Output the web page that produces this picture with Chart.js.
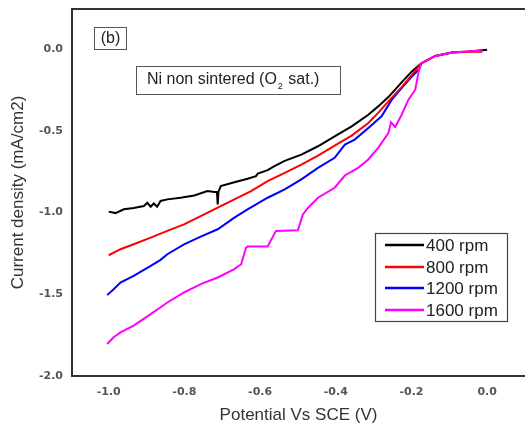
<!DOCTYPE html>
<html>
<head>
<meta charset="utf-8">
<script src="https://cdn.jsdelivr.net/npm/chart.js@4"></script>
<style>
  html, body { margin: 0; padding: 0; background: #fff; }
  #wrap { width: 525px; height: 428px; }
</style>
</head>
<body>
<div id="wrap"><canvas id="rdeChart" width="525" height="428"></canvas></div>
<script>
// 400 rpm
const v400 = [-1.000, -0.982, -0.960, -0.934, -0.907, -0.898, -0.889, -0.881, -0.872, -0.863, -0.845, -0.810, -0.774, -0.739, -0.721, -0.714, -0.712, -0.710, -0.704, -0.668, -0.633, -0.611, -0.606, -0.580, -0.562, -0.535, -0.491, -0.447, -0.403, -0.358, -0.314, -0.288, -0.261, -0.226, -0.199, -0.173, -0.137, -0.093, -0.049, 0.000];
const j400 = [-0.994, -1.003, -0.980, -0.972, -0.960, -0.940, -0.964, -0.944, -0.964, -0.929, -0.919, -0.909, -0.895, -0.868, -0.874, -0.874, -0.950, -0.874, -0.838, -0.814, -0.793, -0.777, -0.761, -0.740, -0.716, -0.683, -0.645, -0.594, -0.533, -0.472, -0.401, -0.350, -0.293, -0.203, -0.136, -0.085, -0.041, -0.020, -0.014, -0.004];

// 800 rpm
const v800 = [-1.000, -0.969, -0.934, -0.889, -0.845, -0.801, -0.757, -0.712, -0.668, -0.624, -0.580, -0.535, -0.491, -0.447, -0.403, -0.358, -0.314, -0.288, -0.261, -0.226, -0.199, -0.173, -0.137, -0.093, -0.049, -0.013];
const j800 = [-1.261, -1.224, -1.194, -1.153, -1.112, -1.072, -1.021, -0.970, -0.919, -0.868, -0.807, -0.757, -0.706, -0.651, -0.590, -0.529, -0.452, -0.390, -0.319, -0.232, -0.157, -0.085, -0.041, -0.020, -0.016, -0.016];

// 1200 rpm
const v1200 = [-1.004, -0.987, -0.969, -0.934, -0.889, -0.863, -0.845, -0.801, -0.757, -0.712, -0.668, -0.633, -0.580, -0.535, -0.491, -0.447, -0.403, -0.376, -0.350, -0.314, -0.279, -0.252, -0.226, -0.199, -0.181];
const j1200 = [-1.505, -1.469, -1.428, -1.387, -1.326, -1.289, -1.255, -1.194, -1.147, -1.102, -1.031, -0.980, -0.909, -0.858, -0.797, -0.726, -0.665, -0.584, -0.553, -0.482, -0.411, -0.309, -0.238, -0.167, -0.126];

// 1600 rpm
const v1600 = [-1.004, -0.987, -0.969, -0.934, -0.889, -0.845, -0.801, -0.757, -0.712, -0.668, -0.650, -0.637, -0.633, -0.580, -0.558, -0.500, -0.487, -0.473, -0.447, -0.403, -0.376, -0.341, -0.314, -0.288, -0.261, -0.254, -0.243, -0.226, -0.208, -0.190, -0.181, -0.173, -0.137, -0.093, -0.049, -0.013];
const j1600 = [-1.804, -1.763, -1.733, -1.692, -1.621, -1.550, -1.489, -1.438, -1.397, -1.346, -1.316, -1.214, -1.208, -1.208, -1.112, -1.108, -1.011, -0.970, -0.909, -0.848, -0.773, -0.726, -0.675, -0.604, -0.513, -0.447, -0.476, -0.401, -0.309, -0.248, -0.136, -0.085, -0.041, -0.020, -0.014, -0.008];

const seriesLabels = ['400 rpm', '800 rpm', '1200 rpm', '1600 rpm'];
const seriesColors = ['#000000', '#ff0000', '#0000ff', '#ff00ff'];
const xTicks = [-1.0, -0.8, -0.6, -0.4, -0.2, 0.0];
const yTicks = [0.0, -0.5, -1.0, -1.5, -2.0];

function toPoints(xs, ys) {
    return xs.map((x, i) => ({ x: x, y: ys[i] }));
}

const allSeries = [[v400, j400], [v800, j800], [v1200, j1200], [v1600, j1600]];
// higher order = drawn first (underneath)
const drawOrder = [3, 1, 2, 0];

const datasets = allSeries.map((s, i) => ({
    label: seriesLabels[i],
    data: toPoints(s[0], s[1]),
    borderColor: seriesColors[i],
    backgroundColor: seriesColors[i],
    borderWidth: 2,
    pointRadius: 0,
    tension: 0,
    order: drawOrder[i]
}));

const tickFont = { family: '"DejaVu Sans", sans-serif', size: 11, weight: 'bold' };
const titleFont = { family: '"Liberation Sans", Arial, sans-serif', size: 17 };

// boxes, frame and legend drawn on top of the chart
const decorPlugin = {
    id: 'decor',
    afterDraw(chart) {
        const ctx = chart.ctx;
        const area = chart.chartArea;
        ctx.save();

        // top frame line
        ctx.strokeStyle = '#333';
        ctx.lineWidth = 2;
        ctx.beginPath();
        ctx.moveTo(area.left - 1, area.top);
        ctx.lineTo(area.right, area.top);
        ctx.stroke();

        // (b) label
        ctx.lineWidth = 1;
        ctx.strokeStyle = '#555';
        ctx.strokeRect(94.5, 27.5, 32, 22);
        ctx.fillStyle = '#222';
        ctx.font = '16px "Liberation Sans", Arial, sans-serif';
        ctx.textBaseline = 'middle';
        ctx.textAlign = 'center';
        ctx.fillText('(b)', 110.5, 39);

        // sample note with subscript
        ctx.strokeRect(136.5, 66.5, 204, 28);
        ctx.textAlign = 'left';
        let tx = 147;
        const part1 = 'Ni non sintered (O';
        ctx.fillText(part1, tx, 80);
        tx += ctx.measureText(part1).width;
        ctx.font = '9px "Liberation Sans", Arial, sans-serif';
        ctx.fillText('2', tx + 1, 87);
        tx += ctx.measureText('2').width + 2;
        ctx.font = '16px "Liberation Sans", Arial, sans-serif';
        ctx.fillText(' sat.)', tx, 80);

        // legend
        ctx.strokeStyle = '#444';
        ctx.lineWidth = 1.2;
        ctx.strokeRect(375.5, 233.5, 132, 88);
        const rowY = [245, 267, 288, 310];
        ctx.font = '17px "Liberation Sans", Arial, sans-serif';
        seriesLabels.forEach((lab, i) => {
            ctx.strokeStyle = seriesColors[i];
            ctx.lineWidth = 2.5;
            ctx.beginPath();
            ctx.moveTo(385, rowY[i]);
            ctx.lineTo(424, rowY[i]);
            ctx.stroke();
            ctx.fillStyle = '#222';
            ctx.fillText(lab, 426, rowY[i] + 1);
        });
        ctx.restore();
    }
};

const ctx = document.getElementById('rdeChart').getContext('2d');
new Chart(ctx, {
    type: 'line',
    data: { datasets: datasets },
    options: {
        responsive: false,
        animation: false,
        events: [],
        layout: { padding: { top: 9, right: 0, bottom: 0, left: 0 } },
        plugins: {
            legend: { display: false },
            tooltip: { enabled: false }
        },
        scales: {
            x: {
                type: 'linear',
                min: -1.097,
                max: 0.1,
                afterBuildTicks: (scale) => { scale.ticks = xTicks.map(v => ({ value: v })); },
                afterFit: (scale) => {
                    scale.height = 52;
                    scale.paddingLeft = 0;
                    scale.paddingRight = 0;
                },
                grid: { display: false, drawTicks: false },
                border: { display: true, color: '#333', width: 2 },
                ticks: {
                    padding: 10,
                    color: '#555',
                    font: tickFont,
                    callback: (v) => v.toFixed(1)
                },
                title: {
                    display: true,
                    text: 'Potential Vs SCE (V)',
                    color: '#333',
                    font: titleFont,
                    padding: { top: 0, bottom: 2 }
                }
            },
            y: {
                type: 'linear',
                min: -2.0,
                max: 0.246,
                afterBuildTicks: (scale) => { scale.ticks = yTicks.map(v => ({ value: v })); },
                afterFit: (scale) => {
                    scale.width = 72;
                    scale.paddingTop = 0;
                    scale.paddingBottom = 0;
                },
                grid: { display: false, drawTicks: false },
                border: { display: true, color: '#333', width: 2 },
                ticks: {
                    padding: 9,
                    color: '#555',
                    font: tickFont,
                    callback: (v) => v.toFixed(1)
                },
                title: {
                    display: true,
                    text: 'Current density (mA/cm2)',
                    color: '#333',
                    font: titleFont,
                    padding: { top: 8, bottom: 0 }
                }
            }
        }
    },
    plugins: [decorPlugin]
});
</script>
</body>
</html>
